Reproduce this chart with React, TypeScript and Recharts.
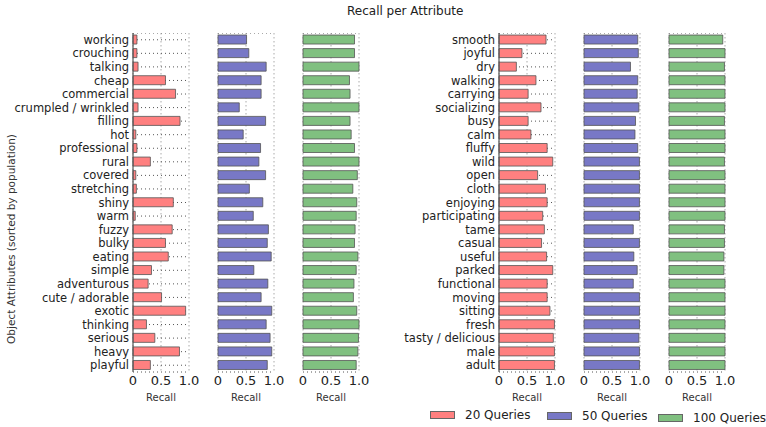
import { BarChart, Bar, XAxis, YAxis, CartesianGrid } from 'recharts';

const FONT = '"DejaVu Sans", sans-serif';

// Left block (25 attributes)
const leftCategories = [
  'working', 'crouching', 'talking', 'cheap', 'commercial', 'crumpled / wrinkled', 'filling', 'hot',
  'professional', 'rural', 'covered', 'stretching', 'shiny', 'warm', 'fuzzy', 'bulky', 'eating',
  'simple', 'adventurous', 'cute / adorable', 'exotic', 'thinking', 'serious', 'heavy', 'playful',
];
const left20 = [0.07, 0.07, 0.09, 0.58, 0.76, 0.09, 0.84, 0.05, 0.07, 0.31, 0.05, 0.06, 0.72,
  0.04, 0.70, 0.58, 0.63, 0.33, 0.27, 0.51, 0.94, 0.24, 0.39, 0.83, 0.31];
const left50 = [0.51, 0.55, 0.86, 0.77, 0.77, 0.38, 0.85, 0.45, 0.76, 0.73, 0.85, 0.56, 0.80,
  0.63, 0.90, 0.88, 0.95, 0.64, 0.89, 0.77, 0.96, 0.86, 0.93, 0.96, 0.88];
const left100 = [0.92, 0.92, 1.0, 0.83, 0.84, 1.0, 0.84, 0.86, 0.92, 1.0, 0.97, 0.89, 0.96,
  0.95, 0.93, 0.92, 0.98, 0.95, 0.91, 0.90, 0.96, 1.0, 0.99, 0.98, 0.95];

// Right block (25 attributes)
const rightCategories = [
  'smooth', 'joyful', 'dry', 'walking', 'carrying', 'socializing', 'busy', 'calm', 'fluffy', 'wild',
  'open', 'cloth', 'enjoying', 'participating', 'tame', 'casual', 'useful', 'parked', 'functional',
  'moving', 'sitting', 'fresh', 'tasty / delicious', 'male', 'adult',
];
const right20 = [0.84, 0.41, 0.31, 0.66, 0.52, 0.75, 0.52, 0.57, 0.86, 0.96, 0.69, 0.83, 0.86,
  0.78, 0.81, 0.76, 0.85, 0.96, 0.86, 0.86, 0.91, 0.99, 0.97, 0.99, 0.99];
const right50 = [0.96, 0.97, 0.83, 0.96, 0.95, 0.98, 0.92, 0.91, 0.96, 0.99, 0.99, 0.99, 0.99,
  0.99, 0.88, 0.99, 0.89, 0.95, 0.88, 0.99, 0.99, 0.99, 0.98, 0.99, 0.99];
const right100 = [0.96, 1.0, 0.99, 1.0, 1.0, 1.0, 0.99, 1.0, 1.0, 0.99, 1.0, 1.0, 1.0,
  1.0, 0.99, 0.99, 0.98, 0.98, 1.0, 1.0, 1.0, 1.0, 1.0, 1.0, 1.0];

const xTicks = [0, 0.5, 1];
const seriesNames = ['20 Queries', '50 Queries', '100 Queries'];
const seriesColors = ['#ff8080', '#7878c6', '#80c080'];

const leftData = leftCategories.map((name, i) => ({ name, q20: left20[i], q50: left50[i], q100: left100[i] }));
const rightData = rightCategories.map((name, i) => ({ name, q20: right20[i], q50: right50[i], q100: right100[i] }));

const PLOT_W = 56;
const PLOT_H = 339;
const AXIS_H = 32;

type PanelProps = {
  data: any[];
  dataKey: string;
  color: string;
  left: number;
  labelWidth: number;
};

const Panel = ({ data, dataKey, color, left, labelWidth }: PanelProps) => {
  const showLabels = labelWidth > 0;
  const marginLeft = showLabels ? 0 : 10;
  const width = marginLeft + labelWidth + PLOT_W + 14;
  return (
    <div style={{ position: 'absolute', left, top: 33 }}>
      <BarChart
        width={width}
        height={PLOT_H + AXIS_H}
        data={data}
        layout="vertical"
        margin={{ top: 0, right: 14, left: marginLeft, bottom: 0 }}
        barCategoryGap="15%"
      >
        <XAxis
          type="number"
          domain={[0, 1]}
          ticks={xTicks}
          interval={0}
          axisLine={false}
          tickLine={false}
          tickSize={2}
          tickMargin={2}
          height={AXIS_H}
          tick={{ fontSize: 13, fill: '#222', fontFamily: FONT }}
          tickFormatter={(v) => (v === 0 ? '0' : v.toFixed(1))}
          label={{ value: 'Recall', position: 'insideBottom', offset: 3, fontSize: 10, fill: '#333', fontFamily: FONT }}
        />
        <YAxis
          type="category"
          dataKey="name"
          width={labelWidth}
          interval={0}
          tick={showLabels ? { fontSize: 11.5, fill: '#222', fontFamily: FONT } : false}
          tickLine={false}
          tickSize={2}
          tickMargin={2}
          axisLine={{ stroke: '#555', strokeWidth: 1.2 }}
        />
        <Bar
          dataKey={dataKey}
          fill={color}
          stroke="#555"
          strokeOpacity={0.8}
          strokeWidth={1}
          isAnimationActive={false}
        />
        <CartesianGrid horizontal={false} stroke="#aaa" strokeDasharray="1.5 2.5" />
        <CartesianGrid vertical={false} stroke="#555" strokeDasharray="1 3" />
      </BarChart>
    </div>
  );
};

const keys = ['q20', 'q50', 'q100'];
const leftPanels = [0, 208, 293];
const rightPanels = [360, 574, 659];

const legendItems = [
  { box: 430, text: 465, y: 415 },
  { box: 547, text: 582, y: 416 },
  { box: 658, text: 693, y: 418 },
];

export default function App() {
  return (
    <div style={{ position: 'absolute', left: 0, top: 0, width: 766, height: 427, background: '#fff', fontFamily: FONT }}>
      <div style={{ position: 'absolute', left: 347, top: 4, fontSize: 12, color: '#222', whiteSpace: 'nowrap' }}>
        Recall per Attribute
      </div>
      <div
        style={{
          position: 'absolute', left: 11, top: 239, fontSize: 10.5, color: '#333', whiteSpace: 'nowrap',
          transform: 'translate(-50%, -50%) rotate(-90deg)',
        }}
      >
        Object Attributes (sorted by population)
      </div>
      {keys.map((k, i) => (
        <Panel key={'l' + k} data={leftData} dataKey={k} color={seriesColors[i]} left={leftPanels[i]} labelWidth={i === 0 ? 133 : 0} />
      ))}
      {keys.map((k, i) => (
        <Panel key={'r' + k} data={rightData} dataKey={k} color={seriesColors[i]} left={rightPanels[i]} labelWidth={i === 0 ? 139 : 0} />
      ))}
      {legendItems.map((item, i) => (
        <div key={i}>
          <div
            style={{
              position: 'absolute', left: item.box, top: item.y - 4, width: 25, height: 8,
              background: seriesColors[i], border: '1px solid #666', boxSizing: 'border-box',
            }}
          />
          <div style={{ position: 'absolute', left: item.text, top: item.y - 8, fontSize: 12, color: '#222', whiteSpace: 'nowrap', lineHeight: '16px' }}>
            {seriesNames[i]}
          </div>
        </div>
      ))}
    </div>
  );
}
